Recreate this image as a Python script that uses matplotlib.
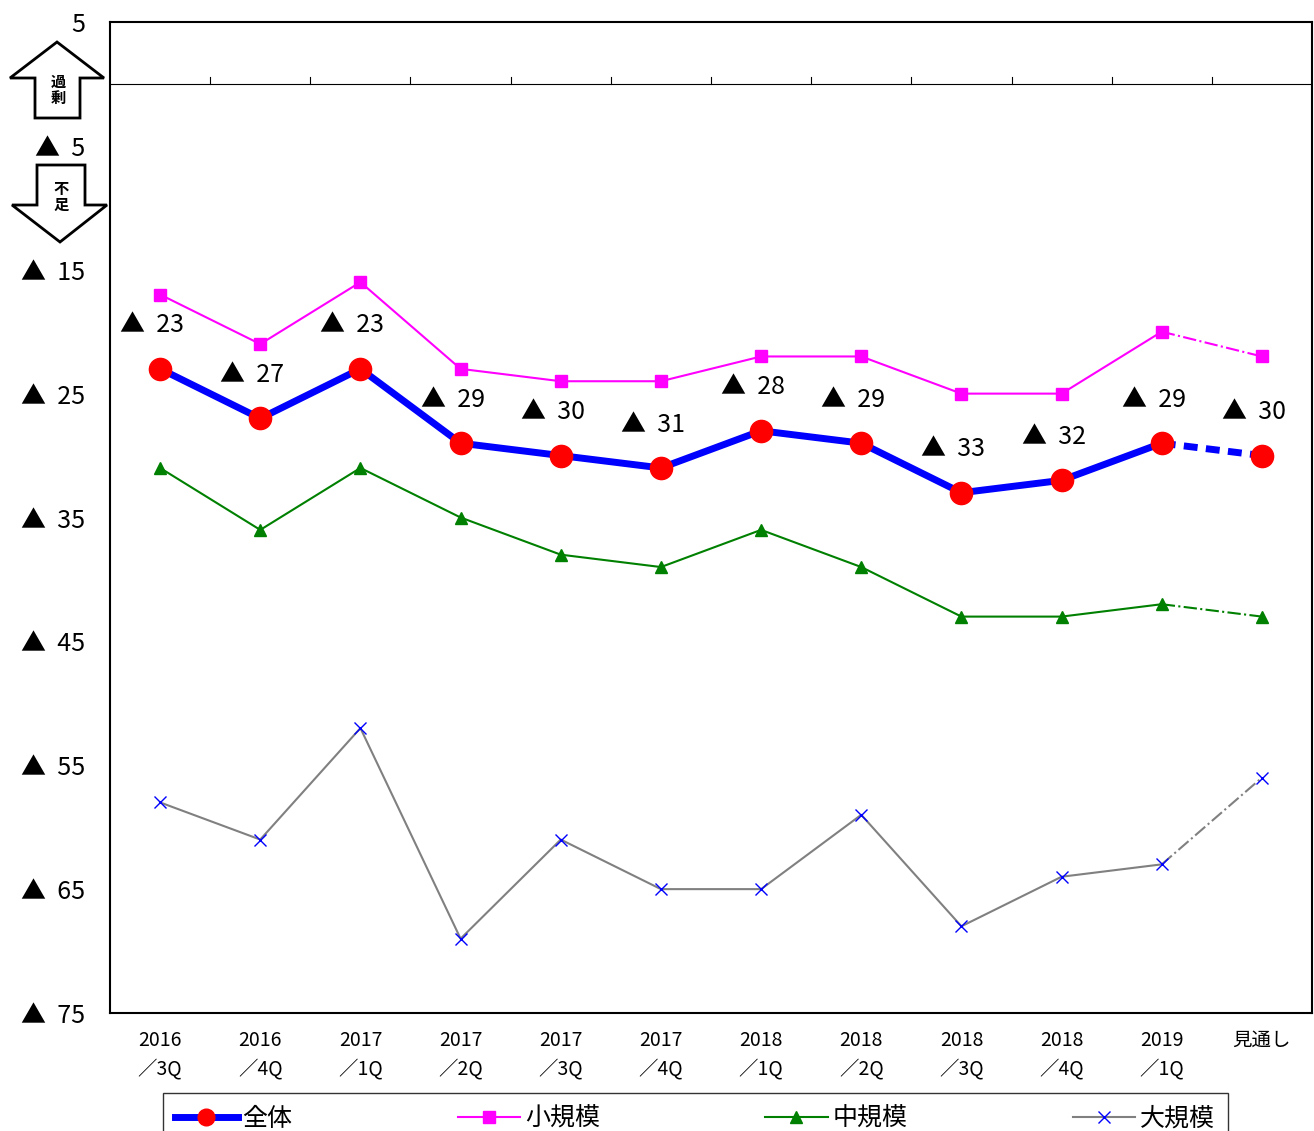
import matplotlib
matplotlib.use("Agg")
import matplotlib.pyplot as plt
from matplotlib.patches import Polygon

plt.rcParams['font.family'] = ['Noto Sans CJK JP', 'DejaVu Sans']

cats = ["2016\n／3Q", "2016\n／4Q", "2017\n／1Q", "2017\n／2Q", "2017\n／3Q", "2017\n／4Q",
        "2018\n／1Q", "2018\n／2Q", "2018\n／3Q", "2018\n／4Q", "2019\n／1Q", "見通し"]
total = [-23, -27, -23, -29, -30, -31, -28, -29, -33, -32, -29, -30]
small = [-17, -21, -16, -23, -24, -24, -22, -22, -25, -25, -20, -22]
mid = [-31, -36, -31, -35, -38, -39, -36, -39, -43, -43, -42, -43]
large = [-58, -61, -52, -69, -61, -65, -65, -59, -68, -64, -63, -56]
yticks = [5, -5, -15, -25, -35, -45, -55, -65, -75]
ylabels = ["5", "▲  5", "▲  15", "▲  25", "▲  35", "▲  45", "▲  55", "▲  65", "▲  75"]

fig = plt.figure(figsize=(13.14, 11.31), dpi=100)
ax = fig.add_axes([110/1314, 1-1013/1131, 1202/1314, 991/1131])
x = list(range(len(cats)))
n = len(cats) - 1

def series(vals, color, marker, lw, ms, label, mec=None):
    mec = mec or color
    ax.plot(x[:n], vals[:n], color=color, lw=lw, zorder=2)
    ax.plot(x[n-1:], vals[n-1:], color=color, lw=lw, ls='-.', zorder=2)
    ax.plot(x, vals, ls='none', marker=marker, ms=ms, mfc=color, mec=mec, zorder=3)
    return ax.plot([], [], color=color, lw=lw, marker=marker, ms=ms,
                   mfc=color, mec=mec, label=label)[0]

h1 = ax.plot([], [], color='#0000FF', lw=5, marker='o', ms=12, mfc='#FF0000', mec='#FF0000', label='全体')[0]
ax.plot(x[:n], total[:n], color='#0000FF', lw=5, zorder=4)
ax.plot(x[n-1:], total[n-1:], color='#0000FF', lw=5, ls=(0, (2, 1.2)), zorder=4)
ax.plot(x, total, ls='none', marker='o', ms=16, mfc='#FF0000', mec='#FF0000', zorder=5)
h2 = series(small, '#FF00FF', 's', 1.5, 8, '小規模')
h3 = series(mid, '#008000', '^', 1.5, 8, '中規模')
h4 = series(large, '#808080', 'x', 1.5, 8, '大規模', mec='#0000FF')

for i, v in enumerate(total):
    ax.text(i - 0.08, v + 3.5, f"▲  {abs(v)}", fontsize=18, ha='center', va='center')

ax.axhline(0, color='black', lw=0.8)
for b in [k - 0.5 for k in range(1, 12)]:
    ax.plot([b, b], [0, 0.6], color='black', lw=0.8)

ax.set_xlim(-0.5, 11.5)
ax.set_ylim(-75, 5)
ax.set_yticks(yticks)
ax.set_yticklabels(ylabels, fontsize=18)
ax.set_xticks(x)
ax.set_xticklabels(cats, fontsize=14, linespacing=1.5)
ax.tick_params(length=0, pad=12)
ax.tick_params(axis='y', pad=18)
for s in ax.spines.values():
    s.set_linewidth(1.5)

H = 1131
def fc(pts):
    return [(px/1314, 1 - py/H) for px, py in pts]
up = [(57, 42), (104, 78), (80, 78), (80, 118), (35, 118), (35, 78), (10, 78)]
dn = [(37, 165), (85, 165), (85, 205), (107, 205), (60, 242), (12, 205), (37, 205)]
for p in (up, dn):
    fig.patches.append(Polygon(fc(p), closed=True, fc='white', ec='black', lw=2,
                               transform=fig.transFigure))
fig.text(58/1314, 1-90/H, "過\n剰", fontsize=11, ha='center', va='center', linespacing=1.0, weight='bold')
fig.text(61/1314, 1-197/H, "不\n足", fontsize=11, ha='center', va='center', linespacing=1.0, weight='bold')

leg = fig.legend(handles=[h1, h2, h3, h4], loc='upper center', ncol=4,
                 bbox_to_anchor=(695/1314, 1-1093/H), fontsize=18, frameon=True,
                 fancybox=False, edgecolor='black', columnspacing=6.6, handlelength=2.5,
                 handletextpad=0.2, borderpad=0.5, borderaxespad=0)
leg.get_frame().set_linewidth(1.0)
fig.savefig("out.png", dpi=100)
